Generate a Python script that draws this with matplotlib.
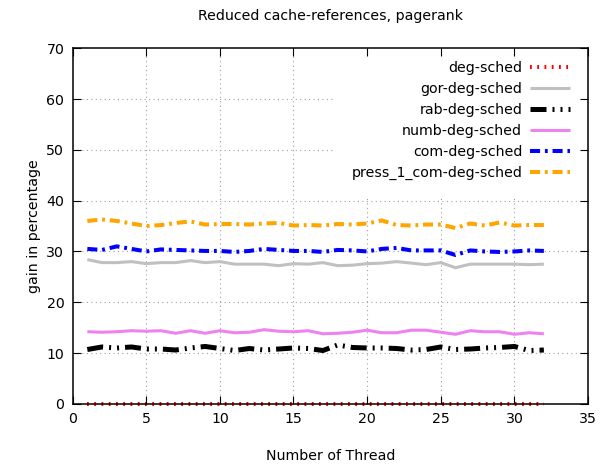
import matplotlib
matplotlib.use("Agg")
import matplotlib.pyplot as plt
import numpy as np

plt.rcParams["font.family"] = ["DejaVu Sans"]
plt.rcParams["font.size"] = 10.2

threads = np.arange(1, 33)

deg_sched = [0.0] * 32
gor_deg_sched = [28.4, 27.8, 27.8, 28.0, 27.6, 27.8, 27.8, 28.2, 27.8, 28.0,
                 27.5, 27.5, 27.5, 27.2, 27.6, 27.5, 27.8, 27.2, 27.3, 27.6,
                 27.7, 28.0, 27.7, 27.4, 27.8, 26.8, 27.5, 27.5, 27.5, 27.5,
                 27.4, 27.5]
rab_deg_sched = [10.7, 11.2, 11.0, 11.2, 10.8, 10.8, 10.6, 11.0, 11.3, 10.9,
                 10.5, 10.9, 10.6, 10.8, 11.0, 10.9, 10.5, 11.6, 11.1, 11.0,
                 11.0, 10.9, 10.6, 10.7, 11.2, 10.7, 10.8, 11.0, 11.1, 11.3,
                 10.5, 10.6]
numb_deg_sched = [14.2, 14.1, 14.2, 14.4, 14.3, 14.4, 13.9, 14.4, 13.9, 14.4,
                  14.0, 14.1, 14.6, 14.3, 14.2, 14.4, 13.8, 13.9, 14.1, 14.5,
                  14.0, 14.0, 14.5, 14.5, 14.1, 13.7, 14.4, 14.2, 14.2, 13.7,
                  14.0, 13.8]
com_deg_sched = [30.5, 30.3, 31.0, 30.5, 30.0, 30.4, 30.3, 30.2, 30.1, 30.1,
                 29.9, 30.1, 30.5, 30.3, 30.1, 30.1, 29.9, 30.3, 30.2, 30.0,
                 30.5, 30.7, 30.2, 30.2, 30.2, 29.3, 30.2, 30.0, 29.9, 30.0,
                 30.2, 30.1]
press_1_com_deg_sched = [36.0, 36.3, 36.0, 35.5, 35.0, 35.2, 35.6, 35.9, 35.3, 35.4,
                         35.4, 35.3, 35.5, 35.6, 35.1, 35.2, 35.1, 35.4, 35.3, 35.5,
                         36.1, 35.2, 35.1, 35.3, 35.3, 34.6, 35.5, 35.1, 35.7, 35.1,
                         35.2, 35.2]

x_ticks = np.arange(0, 36, 5)
y_ticks = np.arange(0, 71, 10)

series = [
    ("deg-sched", deg_sched, "#ff0000", 2.9, (0, (0.45, 1.35))),
    ("gor-deg-sched", gor_deg_sched, "#c0c0c0", 2.2, "-"),
    ("rab-deg-sched", rab_deg_sched, "#000000", 3.6, (0, (3.2, 1.2, 0.4, 1.2, 0.4, 1.2))),
    ("numb-deg-sched", numb_deg_sched, "#ee82ee", 2.2, "-"),
    ("com-deg-sched", com_deg_sched, "#0000ff", 2.9, (0, (2.5, 1.2, 0.7, 1.2))),
    ("press_1_com-deg-sched", press_1_com_deg_sched, "#ffa500", 2.9, (0, (2.5, 1.2, 0.7, 1.2))),
]

fig = plt.figure(figsize=(6.1, 4.68), dpi=100)
ax = fig.add_axes([0.119, 0.137, 0.845, 0.760])

# gnuplot-style grid, kept under the (opaque) key
for xv in x_ticks[1:-1]:
    ax.axvline(xv, color="#a0a0a0", linestyle=(0, (1, 3)), lw=0.8, zorder=1)
for yv in y_ticks[1:-1]:
    ax.axhline(yv, color="#a0a0a0", linestyle=(0, (1, 3)), lw=0.8, zorder=1)

for label, vals, color, lw, ls in series:
    ax.plot(threads, vals, color=color, lw=lw, linestyle=ls, label=label,
            clip_on=False, solid_capstyle="butt", dash_capstyle="butt", zorder=2)

ax.set_xlim(0, 35)
ax.set_ylim(0, 70)
ax.set_xticks(x_ticks)
ax.set_yticks(y_ticks)
ax.tick_params(direction="in", top=True, right=True, length=6, width=0.8, pad=6)
ax.xaxis.set_zorder(6)
ax.yaxis.set_zorder(6)
for sp in ax.spines.values():
    sp.set_linewidth(1.1)
    sp.set_zorder(6)

ax.set_title("Reduced cache-references, pagerank", fontsize=10.2, pad=20.5)
ax.set_xlabel("Number of Thread", labelpad=16.5)
ax.set_ylabel("gain in percentage", labelpad=4)

leg = ax.legend(loc="upper right", bbox_to_anchor=(1.0, 1.0138),
                markerfirst=False, frameon=True, fancybox=False,
                borderaxespad=0.0, borderpad=1.27, handlelength=2.82,
                handletextpad=0.56, labelspacing=0.49)
leg.set_zorder(5)
leg.get_frame().set_facecolor("white")
leg.get_frame().set_edgecolor("none")
leg.get_frame().set_alpha(1.0)

fig.savefig("out.png", dpi=100)
